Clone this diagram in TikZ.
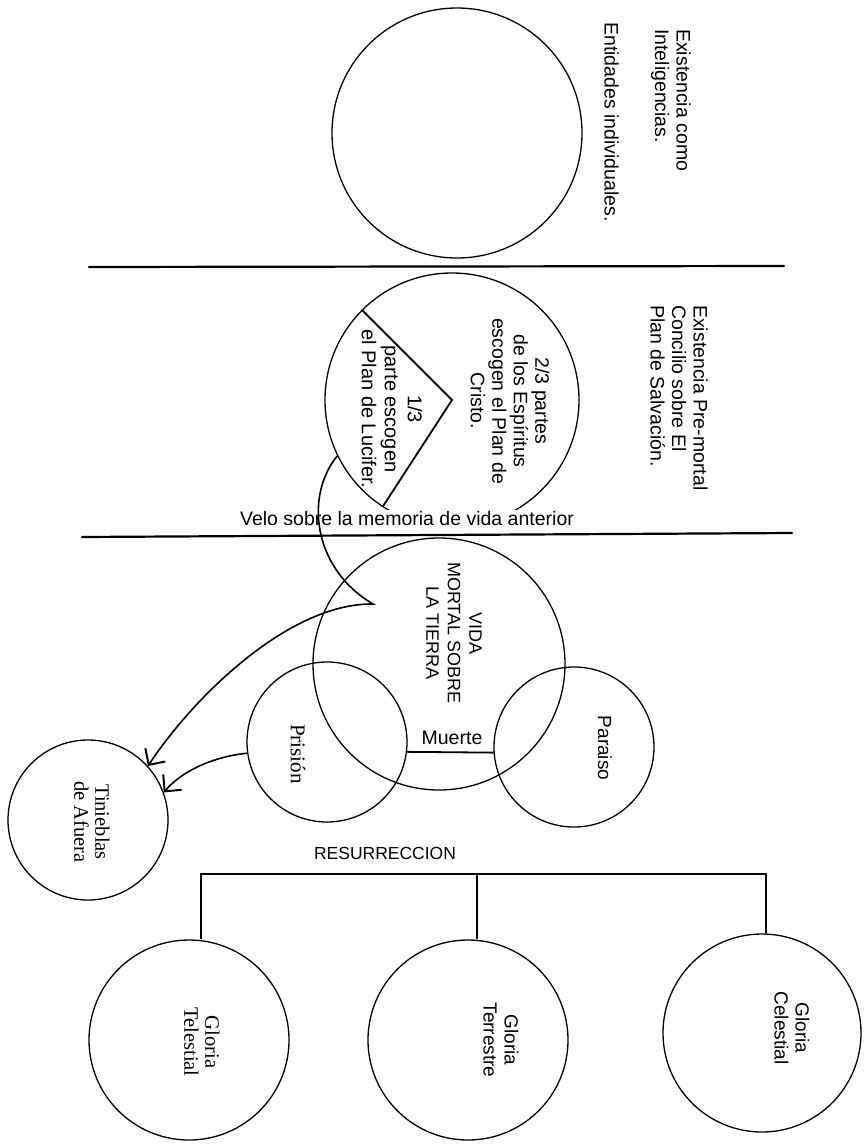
\documentclass[tikz,border=0pt]{standalone}
\usepackage{fontspec}
\setmainfont{Liberation Sans}
\newfontfamily\serifname{Liberation Serif}
\usetikzlibrary{arrows.meta}
\begin{document}
\begin{tikzpicture}[x=1pt,y=-1pt,
  circ/.style={draw, circle, inner sep=0pt, line width=1.3pt},
  rtext/.style={rotate=-90, align=center, inner sep=0pt, font=\fontsize{19.5}{21.5}\selectfont},
  ltext/.style={rotate=-90, align=left, inner sep=0pt, anchor=north west, font=\fontsize{19.5}{21.5}\selectfont},
  divider/.style={line width=2.2pt, line cap=round},
  conn/.style={line width=1.8pt},
  barb/.style={-{Straight Barb[length=12pt,width=24pt,line width=2pt]}, line width=1.6pt}
]
\useasboundingbox (0,0) rectangle (867,1146);

% circles
\node[circ, minimum size=250pt] (intel) at (457,133) {};
\node[circ, minimum size=254pt] (pre) at (452,400) {};
\node[circ, minimum size=252pt] (vida) at (439,664) {};
\node[circ, minimum size=160pt] (pris) at (327,742) {};
\node[circ, minimum size=160pt] (para) at (574,747) {};
\node[circ, minimum size=160pt] (tin) at (88,820) {};
\node[circ, minimum size=200pt] (tel) at (189,1040) {};
\node[circ, minimum size=200pt] (ter) at (468,1040) {};
\node[circ, minimum size=198pt] (cel) at (762,1033) {};

% wedge of the pre-mortal circle
\draw[conn] (pre.135) -- (pre.center) -- (pre.237);

% dividers
\coordinate (d1a) at (89,267); \coordinate (d1b) at (784,266);
\coordinate (d2a) at (82,537); \coordinate (d2b) at (792,533);
\draw[divider] (d1a) -- (d1b);
\draw[divider] (d2a) -- (d2b);

% veil text (hides the bottom of the pre-mortal circle)
\node[fill=white, inner sep=2pt, font=\fontsize{19.5}{21.5}\selectfont] (velo) at (407,519) {Velo sobre la memoria de vida anterior};

% side texts
\node[ltext] (t1) at (691,29) {Existencia como\\Inteligencias.};
\node[ltext] (t1b) at (619,22) {Entidades individuales.};
\node[ltext] (t2) at (708,305) {Existencia Pre-mortal\\Concilio sobre El\\Plan de Salvación.};

% circle texts
\node[rtext] (t23) at (510,401) {2/3 partes\\de los Espíritus\\escogen el Plan de\\Cristo.};
\node[rtext, font=\fontsize{20}{23}\selectfont] (t13) at (392,409) {1/3\\parte escogen\\el Plan de Lucifer.};
\node[rtext, font=\fontsize{18}{21.5}\selectfont] (tv) at (454,633) {VIDA\\MORTAL SOBRE\\LA TIERRA};
\node[rtext, font=\serifname\fontsize{21}{23}\selectfont] (tp) at (298,754) {Prisión};
\node[rtext, font=\fontsize{19}{21}\selectfont] (tpa) at (605,748) {Paraiso};
\node[rtext, font=\serifname\fontsize{20.5}{21}\selectfont] (tt) at (92,822) {Tinieblas\\de Afuera};
\node[rtext, font=\serifname\fontsize{20.5}{21}\selectfont] (tgl) at (202,1042) {Gloria\\Telestial};
\node[rtext, font=\fontsize{19}{21}\selectfont] (tgt) at (501,1040) {Gloria\\Terrestre};
\node[rtext, font=\fontsize{19}{21}\selectfont] (tgc) at (792,1028) {Gloria\\Celestial};

% horizontal texts
\node[inner sep=0pt, font=\fontsize{19.5}{21.5}\selectfont] (tm) at (452,738) {Muerte};
\node[inner sep=0pt, font=\fontsize{17.5}{20}\selectfont] (tr) at (385,853) {RESURRECCION};

% death line
\draw[conn] (pris.-7) -- (para.184);

% resurrection bracket
\coordinate (b1) at (201,874);
\coordinate (b2) at (477,874);
\coordinate (b3) at (766,874);
\draw[conn] (b1 |- tel.north) -- (b1) -- (b3) -- (b3 |- cel.north);
\draw[conn] (b2) -- (b2 |- ter.north);

% Lucifer's path to outer darkness
\coordinate (cusp) at (373,604);
\draw[barb] (pre.206) .. controls (305,495) and (312,568) .. (cusp)
  .. controls (290,603) and (195,695) .. (tin.42);
% from prison to outer darkness
\draw[barb] (pris.188) .. controls (210,757) and (180,773) .. (tin.20);
\end{tikzpicture}
\end{document}
